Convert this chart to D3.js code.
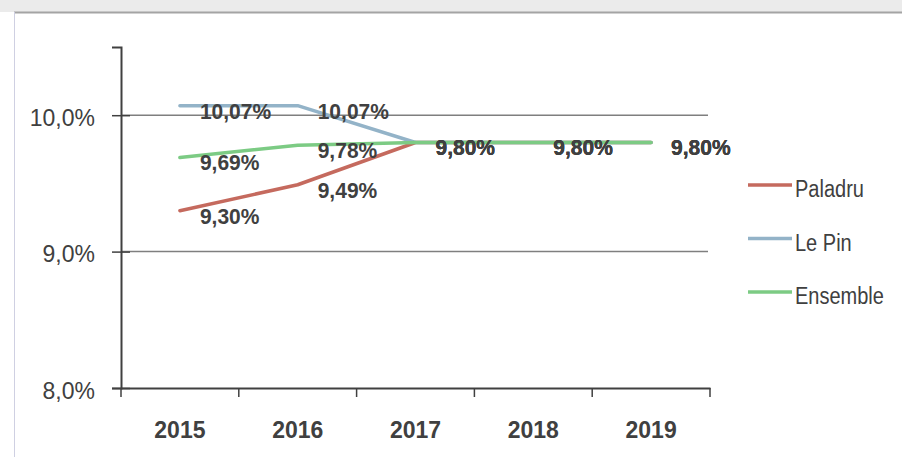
<!DOCTYPE html>
<html>
<head>
<meta charset="utf-8">
<script src="https://cdn.jsdelivr.net/npm/d3@7/dist/d3.min.js"></script>
<style>
  html, body { margin: 0; padding: 0; background: #fff; }
  svg { display: block; }
  text { font-family: "Liberation Sans", Arial, sans-serif; fill: #404040; }
</style>
</head>
<body>
<svg id="chart" width="902" height="457"></svg>
<script>
// data
const years = ["2015", "2016", "2017", "2018", "2019"];
const paladru = [9.30, 9.49, 9.80, 9.80, 9.80];
const lePin = [10.07, 10.07, 9.80, 9.80, 9.80];
const ensemble = [9.69, 9.78, 9.80, 9.80, 9.80];
const seriesNames = ["Paladru", "Le Pin", "Ensemble"];
const yTicks = [8, 9, 10];

const seriesColors = ["#c56a5e", "#93b3c8", "#7ccb84"];

const svg = d3.select("#chart");

// scanned page frame
svg.append("rect").attr("x", 0).attr("y", 0).attr("width", 902).attr("height", 12).attr("fill", "#ebebeb");
svg.append("line").attr("x1", 14).attr("x2", 902).attr("y1", 12.5).attr("y2", 12.5)
  .attr("stroke", "#a4a4a4").attr("stroke-width", 2);
svg.append("line").attr("x1", 14.5).attr("x2", 14.5).attr("y1", 12).attr("y2", 457)
  .attr("stroke", "#cfd0e2").attr("stroke-width", 1);

const plot = { left: 121, right: 710, top: 47, bottom: 388 };

const x = d3.scaleBand()
  .domain(years)
  .range([plot.left, plot.right]);

const y = d3.scaleLinear()
  .domain([8, 10.5])
  .range([plot.bottom, plot.top]);

// gridlines
svg.append("g")
  .selectAll("line")
  .data(yTicks.filter(d => d > 8))
  .join("line")
  .attr("x1", plot.left)
  .attr("x2", plot.right - 2)
  .attr("y1", d => y(d))
  .attr("y2", d => y(d))
  .attr("stroke", "#7f7f7f")
  .attr("stroke-width", 1.5);

// y axis
const yAxis = svg.append("g")
  .attr("transform", `translate(${plot.left},0)`)
  .call(d3.axisLeft(y).tickValues(yTicks).tickSize(9).tickPadding(17)
    .tickFormat(d => d3.format(".1f")(d).replace(".", ",") + "%"));
yAxis.attr("font-family", null);
yAxis.select(".domain").attr("stroke", "#404040").attr("stroke-width", 2);
yAxis.selectAll(".tick line").attr("x1", 9).attr("stroke", "#404040").attr("stroke-width", 1.5);
yAxis.selectAll(".tick text")
  .attr("dy", "0.42em")
  .attr("transform", "scale(1,1.05)")
  .style("font-size", "23px")
  .attr("fill", "#404040");

// x axis (labels slightly stretched, like the scan)
const xStretch = 1.08;
const xAxis = svg.append("g")
  .attr("transform", `translate(0,${plot.bottom})`)
  .call(d3.axisBottom(x).tickSize(0).tickPadding(50));
xAxis.attr("font-family", null);
xAxis.select(".domain").attr("stroke", "#404040").attr("stroke-width", 2);
xAxis.selectAll(".tick text")
  .attr("y", 50 / xStretch)
  .attr("dy", 0)
  .attr("transform", `scale(1,${xStretch})`)
  .style("font-size", "23px")
  .style("font-weight", "bold")
  .attr("fill", "#404040");

// category boundary ticks
const bounds = years.map(d => x(d)).concat([x.range()[1]]);
xAxis.append("g")
  .selectAll("line")
  .data(bounds)
  .join("line")
  .attr("x1", d => d)
  .attr("x2", d => d)
  .attr("y1", 0)
  .attr("y2", 9)
  .attr("stroke", "#404040")
  .attr("stroke-width", 1.5);

const allSeries = [paladru, lePin, ensemble].map((vals, i) => ({
  name: seriesNames[i],
  color: seriesColors[i],
  values: vals.map((v, j) => ({ year: years[j], value: v }))
}));

const cx = d => x(d.year) + x.bandwidth() / 2;

const line = d3.line()
  .x(cx)
  .y(d => y(d.value));

svg.append("g")
  .selectAll("path")
  .data(allSeries)
  .join("path")
  .attr("d", d => line(d.values))
  .attr("fill", "none")
  .attr("stroke", d => d.color)
  .attr("stroke-width", 3.5)
  .attr("stroke-linejoin", "round")
  .attr("stroke-linecap", "round");

// data labels
const fmt = v => d3.format(".2f")(v).replace(".", ",") + "%";
svg.append("g")
  .selectAll("g")
  .data(allSeries)
  .join("g")
  .selectAll("text")
  .data(d => d.values)
  .join("text")
  .attr("transform", d => `translate(${cx(d) + 20},${y(d.value) + 13}) scale(1,1.08)`)
  .style("font-size", "21px")
  .style("font-weight", "bold")
  .attr("fill", "#404040")
  .text(d => fmt(d.value));

// legend
const legend = svg.append("g")
  .selectAll("g")
  .data(allSeries)
  .join("g")
  .attr("transform", (d, i) => `translate(748,${185 + i * 53.5})`);

legend.append("line")
  .attr("x1", 0)
  .attr("x2", 44)
  .attr("stroke", d => d.color)
  .attr("stroke-width", 3.5);

legend.append("text")
  .attr("transform", "translate(47,12) scale(1,1.15)")
  .style("font-size", "20px")
  .attr("fill", "#404040")
  .text(d => d.name);
</script>
</body>
</html>
